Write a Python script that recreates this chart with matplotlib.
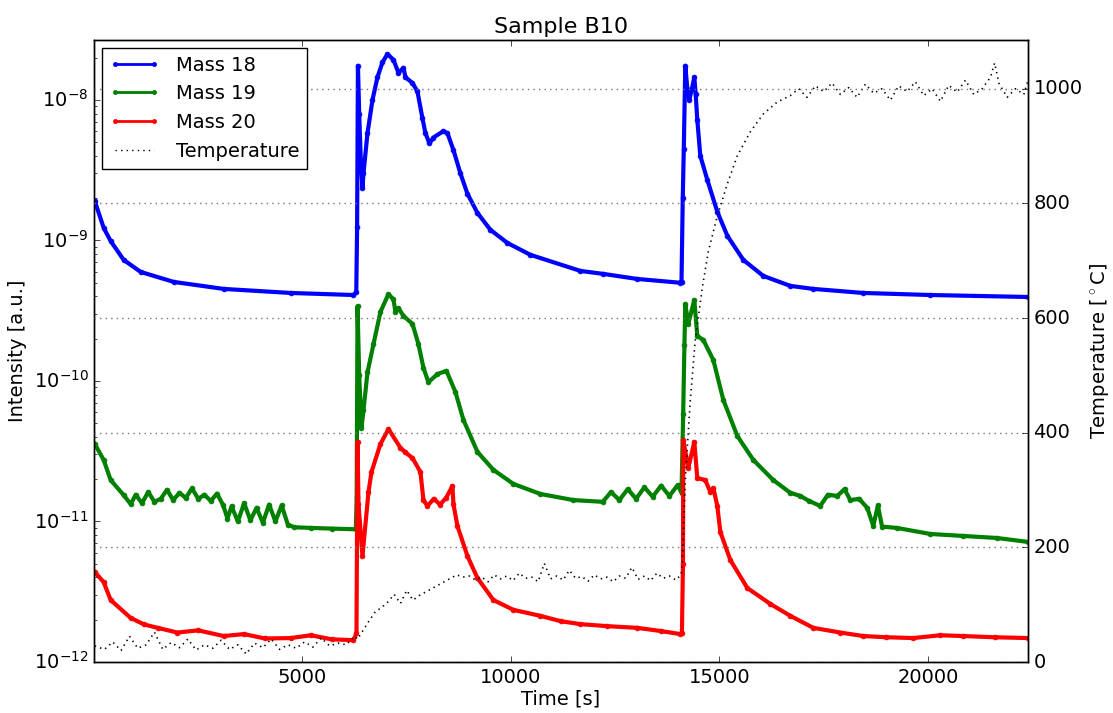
import numpy as np
import matplotlib
matplotlib.use("Agg")
import matplotlib.pyplot as plt
from matplotlib.lines import Line2D

plt.style.use('classic')

# ---- data ----
t18 = [20, 232, 400, 712, 1119, 1910, 3108, 4713, 6223, 6290, 6310, 6330, 6360, 6400,
       6439, 6463, 6559, 6679, 6798, 6918, 7038, 7182, 7302, 7422, 7470, 7638, 7757,
       7877, 7949, 8045, 8141, 8381, 8477, 8620, 8788, 8956, 9196, 9507, 9915, 10466,
       11665, 12216, 13030, 14061, 14090, 14120, 14145, 14181, 14230, 14277, 14340,
       14397, 14430, 14469, 14541, 14709, 14949, 15189, 15573, 16052, 16700, 17251,
       18449, 20055, 22403]
m18 = [1.90e-9, 1.23e-9, 9.9e-10, 7.27e-10, 5.97e-10, 5.07e-10, 4.52e-10, 4.23e-10,
       4.09e-10, 4.3e-10, 1.25e-9, 1.75e-8, 8.0e-9, 3.6e-9,
       2.36e-9, 3.0e-9, 5.8e-9, 1.0e-8, 1.45e-8, 1.85e-8, 2.12e-8, 1.93e-8, 1.56e-8,
       1.69e-8, 1.45e-8, 1.32e-8, 1.15e-8, 7.4e-9, 5.8e-9, 4.9e-9, 5.4e-9, 6.0e-9,
       5.8e-9, 4.4e-9, 3.0e-9, 2.15e-9, 1.57e-9, 1.19e-9, 9.6e-10, 7.9e-10,
       6.07e-10, 5.78e-10, 5.32e-10, 5.0e-10, 5.1e-10, 2.0e-9, 4.5e-9, 1.75e-8,
       1.2e-8, 1.0e-8, 1.2e-8, 1.45e-8, 1.1e-8, 7.2e-9, 4.0e-9, 2.7e-9, 1.6e-9,
       1.08e-9, 7.27e-10, 5.59e-10, 4.75e-10, 4.52e-10, 4.23e-10, 4.09e-10, 3.96e-10]

t19 = [20, 232, 400, 712, 879, 1000, 1150, 1300, 1450, 1600, 1750, 1900, 2050, 2200,
       2350, 2500, 2650, 2800, 2950, 3100, 3200, 3300, 3450, 3600, 3750, 3900, 4050,
       4200, 4350, 4500, 4650, 4800, 5200, 5700, 6280, 6300, 6320, 6360, 6415, 6463,
       6559, 6703, 6870, 7062, 7182, 7230, 7302, 7422, 7638, 7781, 7901, 8021, 8237,
       8453, 8668, 8860, 9196, 9579, 10059, 10706, 11497, 12200, 12400, 12600, 12800,
       13000, 13200, 13400, 13600, 13800, 14000, 14090, 14130, 14160, 14181, 14253,
       14397, 14469, 14613, 14853, 15093, 15429, 15813, 16292, 16700, 16939, 17150,
       17418, 17600, 17826, 18000, 18137, 18350, 18545, 18689, 18800, 18900, 19264,
       20055, 20845, 21660, 22403]
m19 = [3.56e-11, 2.74e-11, 1.97e-11, 1.54e-11, 1.33e-11, 1.55e-11, 1.35e-11, 1.62e-11,
       1.38e-11, 1.45e-11, 1.68e-11, 1.42e-11, 1.60e-11, 1.47e-11, 1.72e-11, 1.45e-11,
       1.55e-11, 1.40e-11, 1.58e-11, 1.30e-11, 1.05e-11, 1.28e-11, 1.0e-11, 1.35e-11,
       1.02e-11, 1.25e-11, 9.8e-12, 1.32e-11, 1.0e-11, 1.30e-11, 9.5e-12, 9.1e-12,
       9.0e-12, 8.9e-12, 8.8e-12, 1.5e-11, 3.4e-10, 1.1e-10, 4.63e-11, 6.2e-11,
       1.15e-10, 1.83e-10, 3.1e-10, 4.16e-10, 3.8e-10, 3.1e-10, 3.3e-10, 2.9e-10,
       2.55e-10, 1.83e-10, 1.24e-10, 9.8e-11, 1.12e-10, 1.18e-10, 8.35e-11, 5.28e-11,
       3.13e-11, 2.33e-11, 1.85e-11, 1.57e-11, 1.42e-11, 1.38e-11, 1.62e-11, 1.42e-11,
       1.70e-11, 1.45e-11, 1.75e-11, 1.50e-11, 1.80e-11, 1.52e-11, 1.82e-11, 1.6e-11,
       5.8e-11, 1.8e-10, 3.53e-10, 2.55e-10, 3.77e-10, 2.09e-10, 1.96e-10, 1.41e-10,
       7.33e-11, 4.06e-11, 2.74e-11, 1.97e-11, 1.6e-11, 1.52e-11, 1.40e-11, 1.29e-11,
       1.55e-11, 1.52e-11, 1.70e-11, 1.42e-11, 1.45e-11, 1.25e-11, 9.3e-12, 1.3e-11,
       9.2e-12, 8.99e-12, 8.15e-12, 7.89e-12, 7.63e-12, 7.15e-12]

t20 = [20, 232, 400, 879, 1200, 1526, 2000, 2500, 3108, 3600, 4100, 4713, 5200, 5700,
       6223, 6295, 6320, 6343, 6439, 6583, 6655, 6870, 7062, 7350, 7470, 7638, 7829,
       7901, 7997, 8150, 8300, 8450, 8596, 8620, 8716, 8956, 9196, 9579, 10059, 10706,
       11200, 11665, 12300, 13030, 13600, 14061, 14100, 14125, 14133, 14253, 14397,
       14469, 14661, 14781, 14853, 14949, 15021, 15261, 15669, 16220, 16700, 17251,
       17900, 18449, 19000, 19647, 20300, 20845, 21600, 22403]
m20 = [4.37e-12, 3.7e-12, 2.76e-12, 2.06e-12, 1.85e-12, 1.75e-12, 1.62e-12, 1.68e-12,
       1.53e-12, 1.58e-12, 1.47e-12, 1.48e-12, 1.55e-12, 1.45e-12, 1.43e-12, 1.6e-12,
       3.68e-11, 1.33e-11, 5.68e-12, 1.62e-11, 2.25e-11, 3.56e-11, 4.55e-11, 3.34e-11,
       3.1e-11, 2.83e-11, 2.25e-11, 1.42e-11, 1.29e-11, 1.45e-11, 1.32e-11, 1.48e-11,
       1.79e-11, 1.33e-11, 9.29e-12, 5.68e-12, 3.96e-12, 2.76e-12, 2.35e-12, 2.13e-12,
       1.95e-12, 1.86e-12, 1.80e-12, 1.75e-12, 1.66e-12, 1.58e-12, 1.6e-12, 5.0e-12,
       3.80e-11, 2.40e-11, 3.68e-11, 2.04e-11, 1.97e-11, 1.62e-11, 1.73e-11, 1.29e-11,
       8.42e-12, 5.32e-12, 3.36e-12, 2.59e-12, 2.13e-12, 1.75e-12, 1.62e-12, 1.53e-12,
       1.50e-12, 1.48e-12, 1.55e-12, 1.53e-12, 1.50e-12, 1.48e-12]

t_temp = [20, 250, 450, 650, 850, 1050, 1250, 1450, 1650, 1850, 2050, 2250, 2450, 2650,
          2850, 3050, 3250, 3450, 3650, 3850, 4050, 4250, 4450, 4650, 4850, 5050, 5250,
          5450, 5650, 5850, 6050, 6250, 6320, 6450, 6600, 6750, 6900, 7050, 7200, 7350,
          7500, 7650, 7800, 7950, 8100, 8250, 8400, 8550, 8700, 8850, 9000, 9150, 9300,
          9450, 9600, 9750, 9900, 10050, 10200, 10350, 10500, 10650, 10800, 10950, 11100,
          11250, 11400, 11550, 11700, 11850, 12000, 12150, 12300, 12450, 12600, 12750,
          12900, 13050, 13200, 13350, 13500, 13650, 13800, 13950, 14080, 14109, 14181,
          14301, 14421, 14589, 14733, 14949, 15189, 15429, 15741, 16052, 16388, 16700,
          16900, 17100, 17300, 17500, 17700, 17900, 18100, 18300, 18500, 18700, 18900,
          19100, 19300, 19500, 19700, 19900, 20100, 20300, 20500, 20700, 20900, 21100,
          21300, 21500, 21600, 21700, 21900, 22100, 22300, 22403]
temp = [28, 22, 35, 20, 45, 24, 30, 52, 22, 34, 25, 40, 21, 30, 24, 38, 22, 30, 14, 33,
        25, 40, 22, 30, 24, 35, 26, 42, 28, 33, 30, 45, 40, 55, 72, 88, 95, 105, 118, 102,
        125, 108, 116, 122, 128, 134, 140, 146, 152, 148, 150, 143, 148, 140, 152, 145,
        150, 142, 155, 146, 148, 140, 172, 145, 150, 143, 160, 146, 149, 141, 152, 145,
        148, 140, 150, 146, 165, 144, 150, 142, 155, 146, 150, 143, 152, 175, 318, 457,
        562, 653, 716, 778, 834, 883, 925, 956, 977, 988, 1000, 985, 1005, 995, 1010, 990,
        1002, 985, 1008, 992, 1000, 980, 1005, 995, 1012, 988, 1000, 978, 1006, 994, 1015,
        990, 1000, 1020, 1045, 1010, 985, 1000, 990, 1015]

fig = plt.figure(figsize=(11.13, 7.13), dpi=100, facecolor='white')
ax1 = fig.add_axes([94/1113, 51/713, 934/1113, 622/713])
ax2 = ax1.twinx()

ax1.plot(t18, m18, '.-', color='b', lw=3, ms=7, mec='b')
ax1.plot(t19, m19, '.-', color='g', lw=3, ms=7, mec='g')
ax1.plot(t20, m20, '.-', color='r', lw=3, ms=7, mec='r')
ax2.plot(t_temp, temp, ':', color='k', lw=1.2)

ax1.set_yscale('log')
ax1.set_xlim(0, 22400)
ax1.set_ylim(1e-12, 2.67e-8)
ax2.set_ylim(0, 1085)
ax2.set_yticks([0, 200, 400, 600, 800, 1000])
ax2.yaxis.grid(True, linestyle=':', color='0.45', lw=1)
ax1.set_xticks([5000, 10000, 15000, 20000])

ax1.tick_params(labelsize=14)
ax2.tick_params(labelsize=14)
ax1.set_xlabel('Time [s]', fontsize=14, labelpad=2)
ax1.set_ylabel('Intensity [a.u.]', fontsize=14)
ax2.set_ylabel(r'Temperature [$^\circ$C]', fontsize=14, labelpad=4)
ax1.set_title('Sample B10', fontsize=16)

handles = [Line2D([], [], color='b', marker='.', lw=2, ms=6),
           Line2D([], [], color='g', marker='.', lw=2, ms=6),
           Line2D([], [], color='r', marker='.', lw=2, ms=6),
           Line2D([], [], color='k', ls=':', lw=1)]
ax2.legend(handles, ['Mass 18', 'Mass 19', 'Mass 20', 'Temperature'],
           loc='upper left', fontsize=14, numpoints=2, borderaxespad=0.4,
           handlelength=2.6, fancybox=False, framealpha=1)

fig.savefig('out.png', dpi=100, facecolor='white')
